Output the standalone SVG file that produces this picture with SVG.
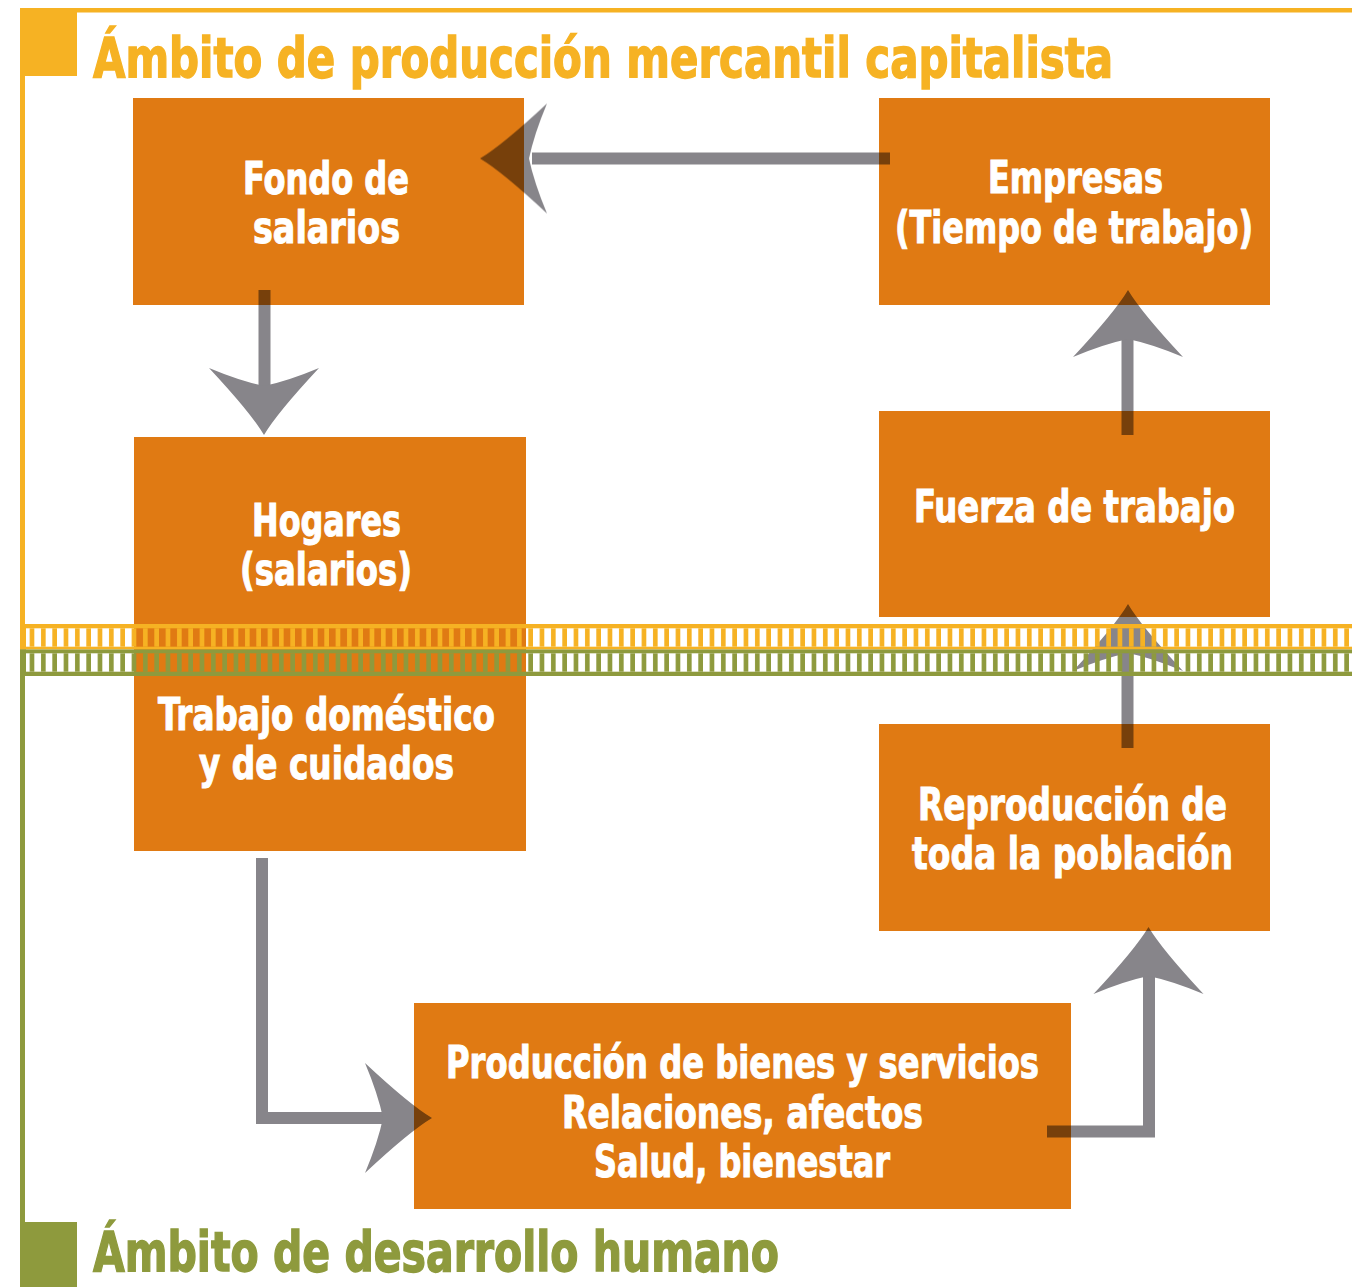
<svg xmlns="http://www.w3.org/2000/svg" xmlns:xlink="http://www.w3.org/1999/xlink" width="1352" height="1287" viewBox="0 0 1352 1287">
<style>
.box{fill:#e07a13}
.t{font-family:"Liberation Sans Narrow","DejaVu Sans Condensed","Arial Narrow","Liberation Sans",sans-serif;font-weight:bold;font-size:44px;fill:#fff;stroke:#fff;stroke-width:1;text-anchor:middle}
.title{font-family:"Liberation Sans Narrow","DejaVu Sans Condensed","Arial Narrow","Liberation Sans",sans-serif;font-weight:bold;font-size:56px;stroke-width:1.4}
.shaft{fill:none;stroke:#87858a;stroke-width:12;stroke-linejoin:miter}
.head{fill:#87858a}
.yel{fill:#f6b223}
.grn{fill:#8e9a3d}
</style>
<defs>
<path id="ah" d="M0,0 Q-22,-13 -67,-55 Q-54,-24 -49,0 Q-54,24 -67,55 Q-22,13 0,0 Z"/>
<pattern id="pY" patternUnits="userSpaceOnUse" x="23" y="0" width="11.333" height="20">
<rect x="6.667" y="0" width="4.667" height="20" fill="#f6b223"/>
</pattern>
<pattern id="pG" patternUnits="userSpaceOnUse" x="23" y="0" width="11.333" height="20">
<rect x="6.667" y="0" width="4.667" height="20" fill="#8e9a3d"/>
</pattern>
</defs>
<rect width="1352" height="1287" fill="#fff"/>

<g id="frame">
<rect class="yel" x="20" y="8" width="1332" height="4.5"/>
<rect class="yel" x="20" y="8" width="57" height="68"/>
<rect class="yel" x="20" y="8" width="5" height="620"/>
<rect class="grn" x="20" y="650" width="5" height="600"/>
<rect class="grn" x="20" y="1222" width="57" height="65"/>
<text class="title" x="93" y="77" textLength="1020" lengthAdjust="spacingAndGlyphs" fill="#f6b223" stroke="#f6b223">Ámbito de producción mercantil capitalista</text>
<text class="title" x="93" y="1271" textLength="686" lengthAdjust="spacingAndGlyphs" fill="#8e9a3d" stroke="#8e9a3d">Ámbito de desarrollo humano</text>
</g>

<g id="node-fondo">
<rect class="box" x="133" y="98" width="391" height="207"/>
<text class="t" x="326" y="194" textLength="166" lengthAdjust="spacingAndGlyphs">Fondo de</text>
<text class="t" x="326.5" y="243" textLength="147" lengthAdjust="spacingAndGlyphs">salarios</text>
</g>
<g id="node-empresas">
<rect class="box" x="879" y="98" width="391" height="207"/>
<text class="t" x="1075.5" y="193" textLength="175" lengthAdjust="spacingAndGlyphs">Empresas</text>
<text class="t" x="1074" y="243" textLength="358" lengthAdjust="spacingAndGlyphs">(Tiempo de trabajo)</text>
</g>
<g id="node-hogares">
<rect class="box" x="134" y="437" width="392" height="414"/>
<text class="t" x="326.5" y="536" textLength="149" lengthAdjust="spacingAndGlyphs">Hogares</text>
<text class="t" x="326" y="585" textLength="172" lengthAdjust="spacingAndGlyphs">(salarios)</text>
<text class="t" x="326.5" y="730" textLength="337" lengthAdjust="spacingAndGlyphs">Trabajo doméstico</text>
<text class="t" x="326.5" y="779" textLength="255" lengthAdjust="spacingAndGlyphs">y de cuidados</text>
</g>
<g id="node-fuerza">
<rect class="box" x="879" y="411" width="391" height="206"/>
<text class="t" x="1074.5" y="522" textLength="321" lengthAdjust="spacingAndGlyphs">Fuerza de trabajo</text>
</g>
<g id="node-reproduccion">
<rect class="box" x="879" y="724" width="391" height="207"/>
<text class="t" x="1072.5" y="820" textLength="309" lengthAdjust="spacingAndGlyphs">Reproducción de</text>
<text class="t" x="1072.5" y="869" textLength="321" lengthAdjust="spacingAndGlyphs">toda la población</text>
</g>
<g id="node-produccion">
<rect class="box" x="414" y="1003" width="657" height="206"/>
<text class="t" x="742.5" y="1078" textLength="593" lengthAdjust="spacingAndGlyphs">Producción de bienes y servicios</text>
<text class="t" x="742.5" y="1128" textLength="361" lengthAdjust="spacingAndGlyphs">Relaciones, afectos</text>
<text class="t" x="742" y="1177" textLength="296" lengthAdjust="spacingAndGlyphs">Salud, bienestar</text>
</g>

<g id="connectors" style="mix-blend-mode:multiply">
<path class="shaft" d="M890,158.5 H532"/>
<use xlink:href="#ah" class="head" transform="translate(480,158.5) rotate(180)"/>
<path class="shaft" d="M264.5,290 V388"/>
<use xlink:href="#ah" class="head" transform="translate(264,435) rotate(90)"/>
<path class="shaft" d="M1127.5,435 V337"/>
<use xlink:href="#ah" class="head" transform="translate(1128,290) rotate(-90)"/>
<path class="shaft" d="M1127.5,748 V650"/>
<use xlink:href="#ah" class="head" transform="translate(1128,604) rotate(-90)"/>
<path class="shaft" d="M1047,1131.5 H1149 V973"/>
<use xlink:href="#ah" class="head" transform="translate(1148.5,927) rotate(-90)"/>
<path class="shaft" d="M262,858 V1118 H390"/>
<use xlink:href="#ah" class="head" transform="translate(432,1118) rotate(0)"/>
</g>

<g id="bands">
<rect class="yel" x="20" y="624" width="1332" height="4.3"/>
<rect x="20" y="628.3" width="1332" height="18.4" fill="url(#pY)"/>
<rect class="yel" x="20" y="646.7" width="1332" height="2.8"/>
<rect class="grn" x="20" y="649.5" width="1332" height="3.8"/>
<rect x="20" y="653.3" width="1332" height="18.4" fill="url(#pG)"/>
<rect class="grn" x="20" y="671.7" width="1332" height="4.3"/>
<rect class="yel" x="20" y="624" width="6" height="25.5"/>
<rect class="grn" x="20" y="649.5" width="6" height="26.5"/>
</g>
</svg>
